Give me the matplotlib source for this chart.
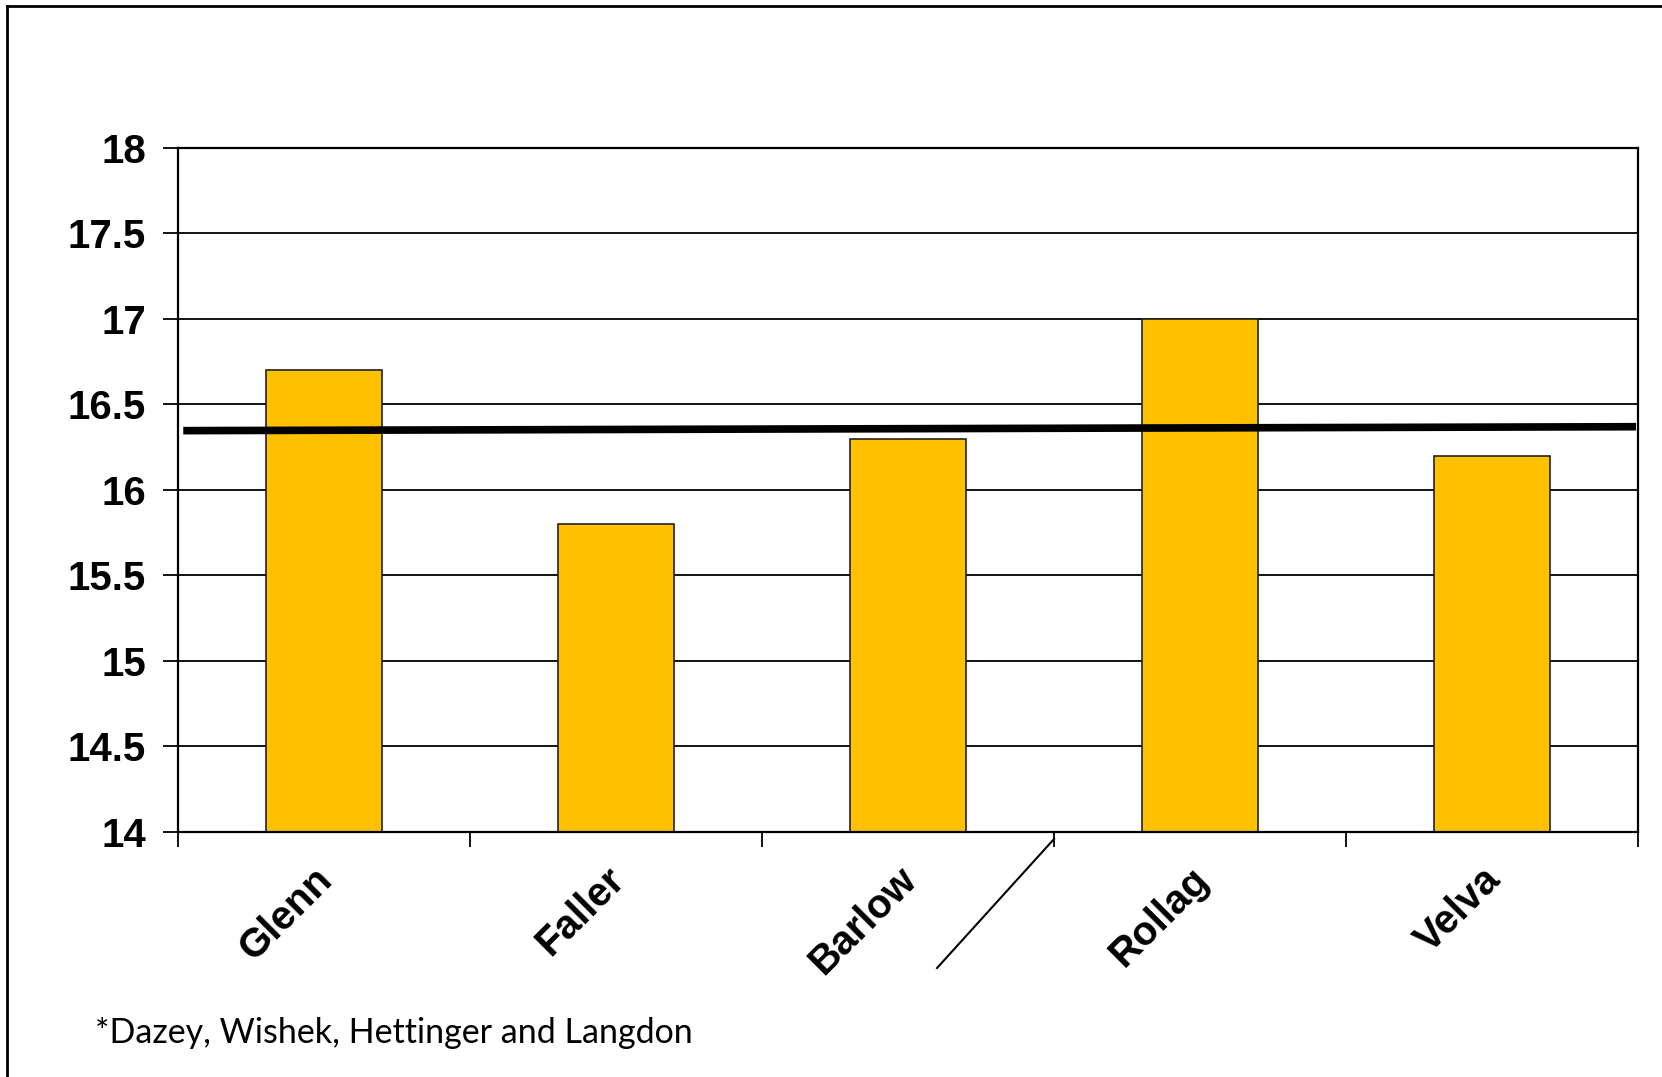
import matplotlib
matplotlib.use("Agg")
import matplotlib.pyplot as plt
from matplotlib.lines import Line2D
from matplotlib.transforms import ScaledTranslation
import numpy as np

# ── Data ──────────────────────────────────────────────────────────────────────
towns  = ["Glenn", "Faller", "Barlow", "Rollag", "Velva"]
values = [16.7, 15.8, 16.3, 17.0, 16.2]
trend_x = [-0.482, 4.493]
trend_y = [16.347, 16.370]
yticks = [14, 14.5, 15, 15.5, 16, 16.5, 17, 17.5, 18]
ytick_labels = ["14", "14.5", "15", "15.5", "16", "16.5", "17", "17.5", "18"]
footnote = "*Dazey, Wishek, Hettinger and Langdon"

BAR_COLOR = "#FFC000"

# ── Plot ──────────────────────────────────────────────────────────────────────
fig = plt.figure(figsize=(16.62, 10.77), dpi=100)
ax = fig.add_axes([0.1071, 0.2275, 0.8785, 0.6351])

x = np.arange(len(towns))
ax.bar(x, values, width=0.40, color=BAR_COLOR, edgecolor="#222222",
       linewidth=1.2, zorder=2)
ax.plot(trend_x, trend_y, color="black", lw=5.5, zorder=3,
        solid_capstyle="butt")

ax.set_xlim(-0.5, len(towns) - 0.5)
ax.set_ylim(14, 18)
ax.set_yticks(yticks)
ax.set_yticklabels(ytick_labels, fontsize=29, fontweight="bold",
                   family="Liberation Sans")
ax.yaxis.grid(True, color="black", lw=1.3, zorder=1)
ax.set_axisbelow(True)

# boundary ticks (major) and centred labels (minor)
ax.set_xticks(np.arange(-0.5, len(towns) + 0.5, 1))
ax.set_xticklabels([])
ax.set_xticks(x, minor=True)
ax.set_xticklabels(towns, minor=True, rotation=45, ha="right",
                   fontsize=29, fontweight="bold", family="Liberation Sans")
ax.tick_params(axis="x", which="minor", length=0, pad=20)
ax.tick_params(axis="x", which="major", length=11, width=1.3, direction="out")
ax.tick_params(axis="y", length=11, width=1.3, direction="out", pad=12)
shift = ScaledTranslation(16 / 100, 0, fig.dpi_scale_trans)
for lbl in ax.get_xticklabels(minor=True):
    lbl.set_transform(lbl.get_transform() + shift)

for s in ax.spines.values():
    s.set_linewidth(1.6)
    s.set_color("black")

# stray diagonal line below the axis
fig.add_artist(Line2D([0.6342, 0.5638], [0.2210, 0.1012],
                      transform=fig.transFigure, color="black", lw=1.5))

# outer frame (left and top edges visible)
fig.add_artist(Line2D([0.0045, 0.0045], [0.0, 0.9945],
                      transform=fig.transFigure, color="black", lw=2))
fig.add_artist(Line2D([0.0045, 1.0], [0.9945, 0.9945],
                      transform=fig.transFigure, color="black", lw=2))

fig.text(0.057, 0.0316, footnote, fontsize=24.5, family="Lato",
         va="baseline", ha="left")

fig.savefig("out.png", dpi=100)
plt.close(fig)
